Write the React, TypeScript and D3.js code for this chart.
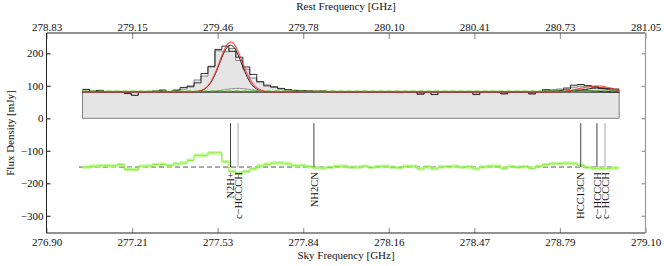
import React, { useEffect, useRef } from 'react';
import * as d3 from 'd3';

const W = 664;
const H = 266;

// axes
const skyDomain = [276.9, 279.1];
const restDomain = [278.83, 281.05];
const fluxDomain = [-353, 262.5];
const skyTickLabels = ['276.90', '277.21', '277.53', '277.84', '278.16', '278.47', '278.79', '279.10'];
const restTickLabels = ['278.83', '279.15', '279.46', '279.78', '280.10', '280.41', '280.73', '281.05'];
const fluxTicks = [200, 100, 0, -100, -200, -300];

// spectrum channels (sky frequency, GHz)
const chanStart = 277.0322;
const chanWidth = 0.0256;

// observed flux per channel [mJy], two data sets
const fluxA = [
  89, 83, 86, 81, 81, 81, 76, 71, 81, 81, 84, 87, 81, 87, 95,
  97, 109, 138, 160, 212, 222, 206, 188, 158, 135, 112, 102, 97, 92, 88, 86, 85, 84, 83, 84, 82,
  81, 82, 80, 81, 82, 80, 81, 82, 80, 79, 81, 82,
  74, 80, 73, 80, 81, 82, 80, 81, 73, 80, 82, 81, 75, 81, 80, 81, 75, 82,
  88, 84, 86, 90, 102, 104, 100, 96, 92, 92, 90,
];
const fluxB = [
  88, 84, 85, 82, 80, 82, 77, 71, 80, 82, 83, 85, 82, 86, 90,
  100, 118, 130, 158, 208, 205, 215, 178, 151, 124, 113, 99, 95, 90, 87, 85, 84, 85, 82, 83, 83,
  82, 81, 81, 80, 83, 81, 80, 81, 81, 80, 80, 81,
  76, 79, 74, 81, 80, 81, 81, 80, 75, 81, 81, 82, 76, 80, 81, 80, 76, 81,
  86, 88, 90, 94, 96, 99, 101, 98, 95, 91, 89,
];

// residuals [mJy], plotted around residOffset
const residA = [
  0, 2, 4, 4, 4, 8, -8, -8, 3, 3, 8, 8, 5,
  10, 12, 20, 35, 35, 44, 44, 16, -14, -18, -14, -5, 3, 8, 12, 13, 10, 5, 4, 2, -3, -3, -2,
  2, 3, -1, 0, 3, -2, 1, 3, -1, -2, 2, 3, -6, 1, -6, 0, 2, 3, -1, 1, -6, 0, 3, 2, -4, 1, -1, 2, -4, 3,
  8, 10, 11, 12, 10, 5, -2, -4, -5, -4, -3,
];
const residB = [
  -2, 4, 2, 6, 2, 6, -5, -10, 1, 5, 6, 10, 3, 8, 14, 24, 38, 40, 42, 40,
  18, -12, -20, -12, -7, 5, 10, 14, 11, 8, 3, 6, 0, -1, -5, 0, 4, 1, 1, -2,
  2, 0, 3, 1, 1, -4, 4, 1, -4, -1, -4, 2, 0, 1, 1, -1, -4, 2, 1, 4,
  -2, 3, 1, 0, -2, 1, 6, 12, 9, 13, 12, 7, 0, -6, -3, -6, -2,
];
const residErr = 3.5;
const residOffset = -150;

// fit
const continuum = 81;
const contGuess = 84;
const lineNames = ['N2H+', 'c−HCCCH', 'NH2CN', 'HCC13CN', 'c−HCCCH', 'c−HCCCH'];
const lineRest = [279.512, 279.54, 279.821, 280.81, 280.87, 280.9];
const lineAmp = [144, 11, 2, 6, 12, 6];
const lineSigma = [0.041, 0.052, 0.04, 0.04, 0.045, 0.04];
const lineTentative = [false, true, false, false, false, true];

const FONT = "'Liberation Serif', 'Times New Roman', serif";

const App: React.FC = () => {
  const svgRef = useRef<SVGSVGElement>(null);

  useEffect(() => {
    if (!svgRef.current) return;
    const svg = d3.select(svgRef.current);
    svg.selectAll('*').remove();

    const m = { top: 33, right: 18.5, bottom: 33, left: 46.5 };
    const x0 = m.left, x1 = W - m.right;
    const y0 = H - m.bottom, y1 = m.top;

    const x = d3.scaleLinear().domain(skyDomain).range([x0, x1]);
    const xr = d3.scaleLinear().domain(restDomain).range([x0, x1]);
    const y = d3.scaleLinear().domain(fluxDomain).range([y0, y1]);

    const n = fluxA.length;
    const edges = d3.range(n + 1).map(i => chanStart + i * chanWidth);

    const stepPath = (vals: number[], closed: boolean, base = 0) => {
      const p = d3.path();
      vals.forEach((v, i) => {
        const a = x(edges[i]), b = x(edges[i + 1]);
        if (i === 0) {
          if (closed) { p.moveTo(a, y(base)); p.lineTo(a, y(v)); }
          else p.moveTo(a, y(v));
        } else p.lineTo(a, y(v));
        p.lineTo(b, y(v));
      });
      if (closed) { p.lineTo(x(edges[n]), y(base)); p.closePath(); }
      return p.toString();
    };

    // data histograms
    svg.append('path')
      .attr('d', stepPath(fluxB, true))
      .attr('fill', '#e5e5e5')
      .attr('stroke', '#808080')
      .attr('stroke-width', 1);
    svg.append('path')
      .attr('d', stepPath(fluxA, false))
      .attr('fill', 'none')
      .attr('stroke', '#1a1a1a')
      .attr('stroke-width', 0.9);

    // model curves
    const fLo = xr.invert(x(edges[0]));
    const fHi = xr.invert(x(edges[n]));
    const freqs = d3.range(0, 401).map(i => fLo + (fHi - fLo) * i / 400);
    const gauss = (f: number, k: number) =>
      lineAmp[k] * Math.exp(-0.5 * ((f - lineRest[k]) / lineSigma[k]) ** 2);
    const line = d3.line<[number, number]>().x(d => xr(d[0])).y(d => y(d[1]));

    lineRest.forEach((_, k) => {
      svg.append('path')
        .attr('d', line(freqs.map(f => [f, continuum + gauss(f, k)] as [number, number])))
        .attr('fill', 'none')
        .attr('stroke', lineTentative[k] ? '#8c8c8c' : '#222')
        .attr('stroke-width', 1);
    });

    // continuum guess
    svg.append('line')
      .attr('x1', x(edges[0])).attr('x2', x(edges[n]))
      .attr('y1', y(contGuess)).attr('y2', y(contGuess))
      .attr('stroke', '#4ccc00')
      .attr('stroke-width', 1.1)
      .attr('stroke-dasharray', '5,3');

    // total fit
    svg.append('path')
      .attr('d', line(freqs.map(f => [f, continuum + d3.sum(lineRest, (_, k) => gauss(f, k))] as [number, number])))
      .attr('fill', 'none')
      .attr('stroke', '#ff3030')
      .attr('stroke-width', 1.2)
      .attr('stroke-opacity', 0.8);

    // residuals
    const half = chanWidth / 2;
    svg.append('line')
      .attr('x1', x(edges[0] - half)).attr('x2', x(edges[n] - half))
      .attr('y1', y(residOffset)).attr('y2', y(residOffset))
      .attr('stroke', '#555')
      .attr('stroke-width', 1)
      .attr('stroke-dasharray', '5,3');

    const drawResid = (vals: number[], lineCol: string, boxCol: string, op: number) => {
      const g = svg.append('g').attr('opacity', op);
      g.append('path')
        .attr('d', stepPath(vals.map(v => residOffset + v), false))
        .attr('fill', 'none')
        .attr('stroke', lineCol)
        .attr('stroke-width', 0.9);
      g.selectAll('rect')
        .data(vals)
        .join('rect')
        .attr('x', (_, i) => x(edges[i]) + 0.5)
        .attr('width', (_, i) => x(edges[i + 1]) - x(edges[i]) - 1)
        .attr('y', d => y(residOffset + d + residErr))
        .attr('height', d => y(residOffset + d - residErr) - y(residOffset + d + residErr))
        .attr('fill', 'none')
        .attr('stroke', boxCol)
        .attr('stroke-width', 0.7);
    };
    drawResid(residB, '#b8ff80', '#c8ff9a', 0.8);
    drawResid(residA, '#70e010', '#a6f870', 0.85);

    // line markers
    const marks = svg.append('g');
    lineRest.forEach((f, k) => {
      const col = lineTentative[k] ? '#a8a8a8' : '#444';
      marks.append('line')
        .attr('x1', xr(f)).attr('x2', xr(f))
        .attr('y1', y(-15)).attr('y2', y(residOffset))
        .attr('stroke', col)
        .attr('stroke-width', 1);
      marks.append('text')
        .attr('transform', `translate(${xr(f)},${y(residOffset - 16)}) rotate(-90)`)
        .attr('text-anchor', 'end')
        .attr('dy', '0.35em')
        .attr('font-family', FONT)
        .attr('font-size', 10.5)
        .attr('fill', '#111')
        .text(lineNames[k]);
    });

    // axes
    const styleAxis = (g: d3.Selection<SVGGElement, unknown, null, undefined>, tickCol: string) => {
      g.select('.domain').remove();
      g.selectAll('.tick line').attr('stroke', tickCol).attr('stroke-width', 1.2);
      g.selectAll('.tick text').attr('fill', '#111');
      g.attr('font-family', FONT).attr('font-size', 11);
    };

    const skyTicks = skyTickLabels.map((_, i) => skyDomain[0] + i * (skyDomain[1] - skyDomain[0]) / (skyTickLabels.length - 1));
    const restTicks = restTickLabels.map((_, i) => restDomain[0] + i * (restDomain[1] - restDomain[0]) / (restTickLabels.length - 1));

    svg.append('g')
      .attr('transform', `translate(0,${y0})`)
      .call(d3.axisBottom(x).tickValues(skyTicks).tickSize(-5).tickPadding(5)
        .tickFormat((_, i) => skyTickLabels[i]))
      .call(g => styleAxis(g, '#999'));

    svg.append('g')
      .attr('transform', `translate(0,${y1})`)
      .call(d3.axisTop(xr).tickValues(restTicks).tickSize(-6).tickPadding(2)
        .tickFormat((_, i) => restTickLabels[i]))
      .call(g => styleAxis(g, '#999'));

    svg.append('g')
      .attr('transform', `translate(${x0},0)`)
      .call(d3.axisLeft(y).tickValues(fluxTicks).tickSize(-4).tickPadding(3))
      .call(g => styleAxis(g, '#333'));

    svg.append('g')
      .attr('transform', `translate(${x1},0)`)
      .call(d3.axisRight(y).tickValues(fluxTicks).tickSize(-4).tickFormat(() => ''))
      .call(g => styleAxis(g, '#999'));

    // frame
    svg.append('path')
      .attr('d', `M${x1},${y1}H${x0}V${y0}H${x1}`)
      .attr('fill', 'none').attr('stroke', '#222').attr('stroke-width', 1);
    svg.append('line')
      .attr('x1', x1).attr('x2', x1).attr('y1', y1).attr('y2', y0)
      .attr('stroke', '#999').attr('stroke-width', 1.2);

    // titles
    svg.append('text')
      .attr('x', (x0 + x1) / 2).attr('y', 10)
      .attr('text-anchor', 'middle')
      .attr('font-family', FONT).attr('font-size', 11).attr('fill', '#111')
      .text('Rest Frequency [GHz]');
    svg.append('text')
      .attr('x', (x0 + x1) / 2).attr('y', 259)
      .attr('text-anchor', 'middle')
      .attr('font-family', FONT).attr('font-size', 11).attr('fill', '#111')
      .text('Sky Frequency [GHz]');
    svg.append('text')
      .attr('transform', `translate(14,${(y0 + y1) / 2}) rotate(-90)`)
      .attr('text-anchor', 'middle')
      .attr('font-family', FONT).attr('font-size', 11).attr('fill', '#111')
      .text('Flux Density [mJy]');
  }, []);

  return (
    <div style={{ position: 'absolute', left: 0, top: 0 }}>
      <svg ref={svgRef} width={W} height={H} style={{ display: 'block', background: '#fff' }} />
    </div>
  );
};

export default App;
